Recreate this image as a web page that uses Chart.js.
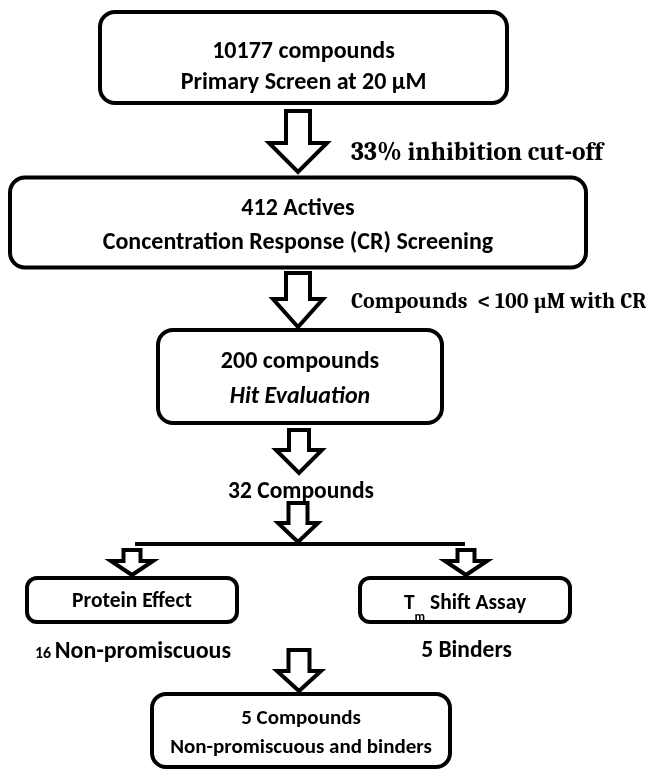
<!DOCTYPE html>
<html>
<head>
<meta charset="utf-8">
<title>Screening cascade</title>
<script src="https://cdn.jsdelivr.net/npm/chart.js@4.4.0/dist/chart.umd.min.js"></script>
<style>
  html, body { margin: 0; padding: 0; background: #fff; }
  #flowChart { display: block; }
</style>
</head>
<body>
<canvas id="flowChart" width="652" height="769"></canvas>
<script>
// ---- data ----
let nodeTitles = ["10177 compounds", "412 Actives", "200 compounds", "Protein Effect", "T_m Shift Assay", "5 Compounds"];
let nodeSubtitles = ["Primary Screen at 20 µM", "Concentration Response (CR) Screening", "Hit Evaluation", "", "", "Non-promiscuous and binders"];
let stepLabels = ["33% inhibition cut-off", "Compounds  < 100 µM with CR"];
let resultCounts = ["32", "16", "5"];
let resultNames = ["Compounds", "Non-promiscuous", "Binders"];

// ---- layout (chart units, y goes down) ----
let nodeCx = [303.5, 298, 300, 132, 465, 301];
let nodeCy = [57.5, 222.5, 376.5, 600, 600, 730.5];
let nodeW = [407, 576, 284, 210, 210, 298];
let nodeH = [91, 90, 93, 44, 44, 73];
let nodeR = [15, 15, 15, 10, 10, 14];
let titleY = [52, 209, 362, 602, 604, 719];
let subY = [83, 243, 397, 0, 0, 748];
let nodeFont = [24, 24, 24, 21.5, 21.5, 21];

let arrowX = [298, 298, 299, 298, 132, 466, 299];
let arrowTop = [111, 273, 430, 503, 550, 550, 650];
let arrowNeck = [143, 299, 450, 523, 561, 561, 671];
let arrowTip = [172, 327, 473, 542, 575, 575, 691];
let arrowShaft = [12, 12, 10, 9.5, 8.5, 8.5, 10.5];
let arrowWing = [29, 25, 23, 20, 21, 21, 22];

let stepX = [351, 351];
let stepY = [153, 302];
let stepFont = [25.5, 22];
let resultX = [301, 133, 466.5];
let resultY = [490, 649, 649];
let resultFont = [23.5, 24, 23.5];

let branchY = 544;
let branchX = [135, 465];

const SANS = "Carlito, Calibri, Lato, sans-serif";
const SERIF = "Cambria, 'Liberation Serif', serif";
const LINE = 4;

function roundBox(ctx, x0, y0, x1, y1, r) {
    ctx.beginPath();
    ctx.roundRect(x0, y0, x1 - x0, y1 - y0, r);
    ctx.fillStyle = "#fff";
    ctx.fill();
    ctx.lineWidth = LINE;
    ctx.strokeStyle = "#000";
    ctx.stroke();
}

function blockArrow(ctx, px, py, i) {
    let cx = px(arrowX[i]);
    let s = px(arrowX[i] + arrowShaft[i]) - cx;
    let w = px(arrowX[i] + arrowWing[i]) - cx;
    let top = py(arrowTop[i]), neck = py(arrowNeck[i]), tip = py(arrowTip[i]);
    ctx.beginPath();
    ctx.moveTo(cx - s, top);
    ctx.lineTo(cx + s, top);
    ctx.lineTo(cx + s, neck);
    ctx.lineTo(cx + w, neck);
    ctx.lineTo(cx, tip);
    ctx.lineTo(cx - w, neck);
    ctx.lineTo(cx - s, neck);
    ctx.closePath();
    ctx.fillStyle = "#fff";
    ctx.fill();
    ctx.lineWidth = LINE;
    ctx.lineJoin = "miter";
    ctx.strokeStyle = "#000";
    ctx.stroke();
}

// text with "_x" meaning x is a subscript
function subText(ctx, txt, cx, cy, size) {
    let parts = txt.split("_");
    let big = "bold " + size + "px " + SANS;
    let small = "bold " + Math.round(size * 0.62) + "px " + SANS;
    let pieces = [{ t: parts[0], f: big, dy: 0 }];
    for (let i = 1; i < parts.length; i++) {
        pieces.push({ t: parts[i].charAt(0), f: small, dy: size * 0.66 });
        pieces.push({ t: " " + parts[i].slice(1).trim(), f: big, dy: 0 });
    }
    let total = 0;
    pieces.forEach(function (p) {
        ctx.font = p.f;
        p.w = ctx.measureText(p.t).width;
        total += p.w;
    });
    let x = cx - total / 2;
    ctx.textAlign = "left";
    pieces.forEach(function (p) {
        ctx.font = p.f;
        ctx.fillText(p.t, x, cy + p.dy);
        x += p.w;
    });
}

const flowPlugin = {
    id: "flowPlugin",
    afterDatasetsDraw(chart) {
        let ctx = chart.ctx;
        let xs = chart.scales.x, ys = chart.scales.y;
        let px = v => xs.getPixelForValue(v);
        let py = v => ys.getPixelForValue(v);
        let meta = chart.getDatasetMeta(0);
        ctx.save();

        // arrows first, boxes sit on top of their ends
        for (let i = 0; i < arrowX.length; i++) blockArrow(ctx, px, py, i);

        // branch line
        ctx.beginPath();
        ctx.moveTo(px(branchX[0]), py(branchY));
        ctx.lineTo(px(branchX[1]), py(branchY));
        ctx.lineWidth = LINE;
        ctx.strokeStyle = "#000";
        ctx.stroke();

        // nodes
        ctx.textBaseline = "middle";
        for (let i = 0; i < nodeTitles.length; i++) {
            let pt = meta.data[i];
            let hw = px(nodeCx[i] + nodeW[i] / 2) - pt.x;
            let hh = py(nodeCy[i] + nodeH[i] / 2) - pt.y;
            roundBox(ctx, pt.x - hw, pt.y - hh, pt.x + hw, pt.y + hh, nodeR[i]);
            ctx.fillStyle = "#000";
            if (nodeTitles[i].indexOf("_") >= 0) {
                subText(ctx, nodeTitles[i], pt.x, py(titleY[i]), nodeFont[i]);
            } else {
                ctx.textAlign = "center";
                ctx.font = "bold " + nodeFont[i] + "px " + SANS;
                ctx.fillText(nodeTitles[i], pt.x, py(titleY[i]));
            }
            if (nodeSubtitles[i]) {
                ctx.textAlign = "center";
                ctx.font = (i == 2 ? "italic " : "") + "bold " + nodeFont[i] + "px " + SANS;
                ctx.fillText(nodeSubtitles[i], pt.x, py(subY[i]));
            }
        }

        // step criteria (serif)
        ctx.textAlign = "left";
        for (let i = 0; i < stepLabels.length; i++) {
            ctx.font = "bold " + stepFont[i] + "px " + SERIF;
            ctx.fillText(stepLabels[i], px(stepX[i]), py(stepY[i]));
        }

        // results between steps, count + name on one baseline
        ctx.textBaseline = "alphabetic";
        ctx.textAlign = "left";
        for (let i = 0; i < resultCounts.length; i++) {
            let numSize = i == 1 ? 16 : resultFont[i];
            let numFont = "bold " + numSize + "px " + SANS;
            let nameFont = "bold " + resultFont[i] + "px " + SANS;
            ctx.font = numFont;
            let a = ctx.measureText(resultCounts[i] + " ").width;
            ctx.font = nameFont;
            let b = ctx.measureText(resultNames[i]).width;
            let x0 = px(resultX[i]) - (a + b) / 2;
            let base = py(resultY[i]) + resultFont[i] * 0.36;
            ctx.font = numFont;
            ctx.fillText(resultCounts[i] + " ", x0, base);
            ctx.font = nameFont;
            ctx.fillText(resultNames[i], x0 + a, base);
        }
        ctx.restore();
    }
};

let flowChart = new Chart("flowChart", {
    type: "scatter",
    data: {
        datasets: [{
            data: nodeCx.map(function (x, i) { return { x: x, y: nodeCy[i] }; }),
            pointRadius: 0
        }]
    },
    options: {
        responsive: false,
        animation: false,
        events: [],
        layout: { padding: 0 },
        plugins: { legend: { display: false }, tooltip: { enabled: false } },
        scales: {
            x: { type: "linear", min: 0, max: 652, display: false },
            y: { type: "linear", min: 0, max: 769, reverse: true, display: false }
        }
    },
    plugins: [flowPlugin]
});
</script>
</body>
</html>
